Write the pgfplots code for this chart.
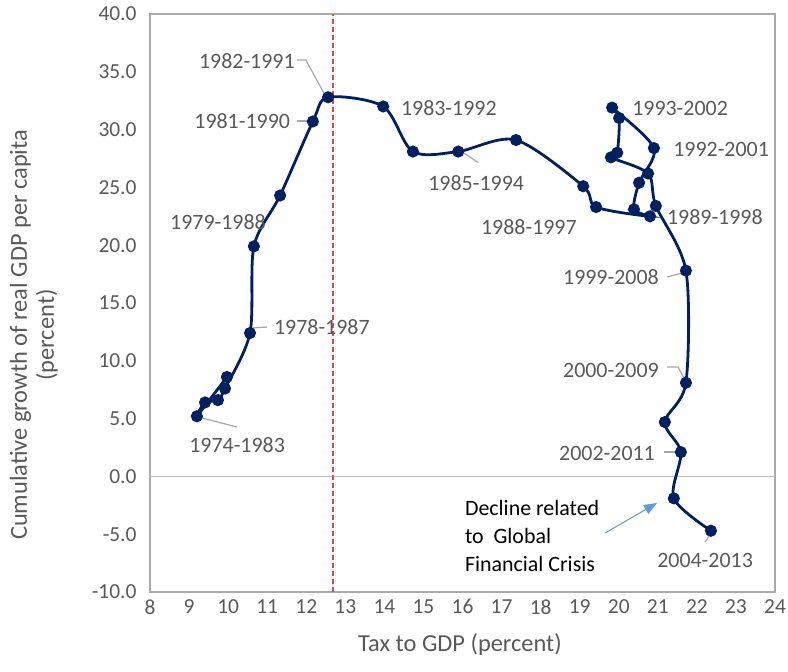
\documentclass[border=0pt]{standalone}
\usepackage{pgfplots}
\pgfplotsset{compat=1.18}
\usetikzlibrary{arrows.meta}
\usepackage{fontspec}
\setmainfont{Carlito}
\definecolor{navy}{RGB}{0,32,96}
\definecolor{txtgray}{RGB}{89,89,89}
\definecolor{framegray}{RGB}{170,170,170}
\definecolor{zerogray}{RGB}{191,191,191}
\definecolor{leadgray}{RGB}{166,166,166}
\definecolor{dashred}{RGB}{235,70,70}
\definecolor{arrowblue}{RGB}{91,155,213}
\tikzset{lbl/.style={font=\fontsize{22}{26}\selectfont, text=txtgray, inner sep=0pt}}
\begin{document}
\begin{tikzpicture}
\useasboundingbox (-150bp,-80bp) rectangle (638bp,592bp);
\begin{axis}[at={(0,0)}, anchor=south west, scale only axis,
  width=625bp, height=578bp,
  xmin=8, xmax=24, ymin=-10, ymax=40,
  xtick={8,...,24}, ytick={-10,-5,...,40},
  major tick length=0pt,
  clip=false,
  axis line style={framegray, line width=1.3bp},
  tick label style={font=\fontsize{21.5}{24}\selectfont, text=txtgray},
  /pgf/number format/assume math mode=true,
  yticklabel={\pgfmathprintnumber[fixed,fixed zerofill,precision=1]{\tick}},
  yticklabel style={xshift=-10bp},
  xticklabel style={yshift=-4bp},
]
\draw[zerogray, line width=1.3bp] (axis cs:8,0) -- (axis cs:24,0);
\addplot[draw=dashred, line width=1.6bp, dash pattern=on 5bp off 3bp, forget plot] coordinates {(12.69,-10) (12.69,40)};

\addplot[navy, line width=2.8bp, smooth, tension=0.5, mark=*, mark size=4.6bp,
  mark options={solid, fill=navy}] coordinates {
(9.97,8.6)
(9.20,5.2)
(9.41,6.4)
(9.74,6.6)
(9.92,7.6)
(10.56,12.4)
(10.66,19.9)
(11.33,24.3)
(12.17,30.7)
(12.56,32.8)
(13.97,32.0)
(14.73,28.1)
(15.89,28.1)
(17.37,29.1)
(19.09,25.1)
(19.42,23.3)
(20.80,22.5)
(20.39,23.1)
(20.52,25.4)
(20.90,28.4)
(19.83,31.9)
(20.01,31.0)
(19.96,28.0)
(19.80,27.6)
(20.75,26.2)
(20.95,23.4)
(21.72,17.8)
(21.72,8.1)
(21.18,4.7)
(21.59,2.1)
(21.41,-1.9)
(22.36,-4.7)
};

% leader lines
\draw[leadgray, line width=1.2bp] (axis cs:11.76,36.02) -- (axis cs:11.99,36.02) -- (axis cs:12.45,33.17);
\draw[leadgray, line width=1.2bp] (axis cs:11.76,30.74) -- (axis cs:12.04,30.74);
\draw[leadgray, line width=1.2bp] (axis cs:15.88,28.3) -- (axis cs:16.40,27.16);
\draw[leadgray, line width=1.2bp] (axis cs:10.61,12.84) -- (axis cs:11.0,12.92);
\draw[leadgray, line width=1.2bp] (axis cs:9.23,5.14) -- (axis cs:10.23,4.27);
\draw[leadgray, line width=1.2bp] (axis cs:21.24,17.25) -- (axis cs:21.62,17.6);
\draw[leadgray, line width=1.2bp] (axis cs:21.24,9.46) -- (axis cs:21.52,9.46) -- (axis cs:21.72,8.17);
\draw[leadgray, line width=1.2bp] (axis cs:21.16,2.11) -- (axis cs:21.57,2.11);
\draw[leadgray, line width=1.2bp] (axis cs:22.21,-5.67) -- (axis cs:22.39,-4.81);

% data labels
\node[lbl] at (axis cs:10.48,35.93) {1982-1991};
\node[lbl] at (axis cs:10.36,30.74) {1981-1990};
\node[lbl] at (axis cs:15.65,31.87) {1983-1992};
\node[lbl] at (axis cs:16.35,25.38) {1985-1994};
\node[lbl] at (axis cs:17.70,21.57) {1988-1997};
\node[lbl] at (axis cs:9.74,22.0) {1979-1988};
\node[lbl] at (axis cs:12.40,12.92) {1978-1987};
\node[lbl] at (axis cs:10.23,2.72) {1974-1983};
\node[lbl] at (axis cs:21.57,31.87) {1993-2002};
\node[lbl] at (axis cs:22.62,28.24) {1992-2001};
\node[lbl] at (axis cs:22.46,22.44) {1989-1998};
\node[lbl] at (axis cs:19.80,17.25) {1999-2008};
\node[lbl] at (axis cs:19.80,9.2) {2000-2009};
\node[lbl] at (axis cs:19.70,2.02) {2002-2011};
\node[lbl] at (axis cs:22.21,-7.23) {2004-2013};

% annotation
\node[anchor=west, align=left, font=\fontsize{22}{28}\selectfont, text=black, inner sep=0pt]
  at (axis cs:16.06,-5.16) {Decline related\\to\ \ Global\\Financial Crisis};
\draw[arrowblue, line width=1bp, -{Triangle[length=13bp,width=10bp]}] (axis cs:19.65,-4.9) -- (axis cs:20.98,-2.3);
\end{axis}
\node[rotate=90, anchor=south, align=center, font=\fontsize{24.5}{27}\selectfont, text=txtgray, inner sep=0pt]
  at (-92bp,257bp) {Cumulative growth of real GDP per capita\\(percent)};
\node[font=\fontsize{24.5}{27}\selectfont, text=txtgray, inner sep=0pt] at (310bp,-53bp) {Tax to GDP (percent)};
\end{tikzpicture}
\end{document}
